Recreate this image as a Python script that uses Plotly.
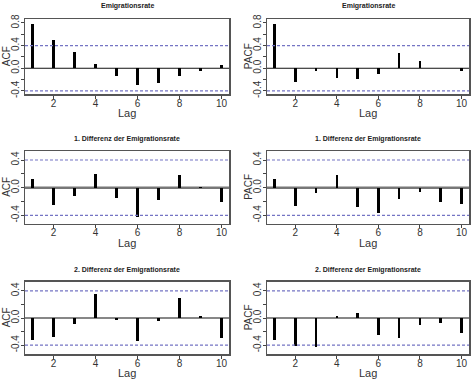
import plotly.graph_objects as go

lags = [1, 2, 3, 4, 5, 6, 7, 8, 9, 10]
ci = 0.40

acf_level = [0.78, 0.50, 0.28, 0.07, -0.135, -0.30, -0.26, -0.14, -0.05, 0.065]
pacf_level = [0.78, -0.235, -0.05, -0.18, -0.19, -0.10, 0.265, 0.12, 0.01, -0.04]
acf_diff1 = [0.12, -0.255, -0.125, 0.20, -0.155, -0.43, -0.175, 0.18, 0.005, -0.21]
pacf_diff1 = [0.125, -0.27, -0.07, 0.18, -0.275, -0.37, -0.16, -0.055, -0.20, -0.24]
acf_diff2 = [-0.317, -0.273, -0.093, 0.35, -0.034, -0.34, -0.04, 0.30, 0.025, -0.29]
pacf_diff2 = [-0.317, -0.415, -0.434, 0.03, 0.068, -0.245, -0.30, -0.11, -0.07, -0.215]

titles = ["Emigrationsrate", "1. Differenz der Emigrationsrate", "2. Differenz der Emigrationsrate"]
ylabels = ["ACF", "PACF"]
x_ticks = [2, 4, 6, 8, 10]
y_ticks = [-0.4, -0.2, 0.0, 0.2, 0.4, 0.6, 0.8]
y_ticktext = ["-0.4", "", "0.0", "", "0.4", "", "0.8"]

W, H = 474, 380
panels = [
    (acf_level, 0, 0), (pacf_level, 0, 1),
    (acf_diff1, 1, 0), (pacf_diff1, 1, 1),
    (acf_diff2, 2, 0), (pacf_diff2, 2, 1),
]
row_px = [(19.3, 94.0), (151.0, 223.7), (281.7, 354.0)]
col_px = [(25.0, 229.0), (267.0, 469.0)]
yranges = [(-0.455, 0.865), (-0.52, 0.53), (-0.53, 0.535)]
title_y = [6.5, 138.5, 269.5]
zero_style = [("#111111", 1.0), ("#777777", 2.5), ("#111111", 1.2)]

fig = go.Figure()
font = "Liberation Sans, Arial, sans-serif"
shapes = []
annotations = []
layout_axes = {}

for i, (vals, r, c) in enumerate(panels):
    n = i + 1
    xa = "x" if n == 1 else f"x{n}"
    ya = "y" if n == 1 else f"y{n}"
    xkey = "xaxis" if n == 1 else f"xaxis{n}"
    ykey = "yaxis" if n == 1 else f"yaxis{n}"
    top, bot = row_px[r]
    left, right = col_px[c]
    fig.add_trace(go.Bar(x=lags, y=vals, width=0.12, marker=dict(color="#000000", line=dict(width=0)),
                         xaxis=xa, yaxis=ya, showlegend=False, hoverinfo="skip"))
    layout_axes[xkey] = dict(domain=[left / W, right / W], range=[0.64, 10.36], anchor=ya,
                             tickvals=x_ticks, ticks="outside", ticklen=3, tickcolor="#444",
                             ticklabelstandoff=-4,
                             tickfont=dict(size=10, color="#333", family=font),
                             showgrid=False, zeroline=False, showline=True, mirror=True,
                             linecolor="#555", linewidth=1.5, automargin=False)
    layout_axes[ykey] = dict(domain=[1 - bot / H, 1 - top / H], range=list(yranges[r]), anchor=xa,
                             tickvals=y_ticks, ticktext=y_ticktext, ticks="outside", ticklen=3,
                             tickcolor="#444", tickangle=-90, ticklabelstandoff=-2,
                             tickfont=dict(size=10, color="#333", family=font),
                             showgrid=False, zeroline=False, showline=True, mirror=True,
                             linecolor="#555", linewidth=1.5, automargin=False)
    zc, zw = zero_style[r]
    shapes.append(dict(type="line", xref=f"{xa} domain", yref=ya, x0=0, x1=1, y0=0, y1=0,
                       line=dict(color=zc, width=zw), layer="below"))
    for s in (ci, -ci):
        shapes.append(dict(type="line", xref=f"{xa} domain", yref=ya, x0=0, x1=1, y0=s, y1=s,
                           line=dict(color="#7474c4", width=1.2, dash="3px,2px")))
    cx = (left + right) / 2
    annotations.append(dict(text=f"<b>{titles[r]}</b>", x=cx / W, y=1 - title_y[r] / H,
                            xref="paper", yref="paper", showarrow=False,
                            font=dict(size=7, color="#222", family=font), xanchor="center", yanchor="middle"))
    annotations.append(dict(text="Lag", x=cx / W, y=1 - (bot + 19) / H,
                            xref="paper", yref="paper", showarrow=False,
                            font=dict(size=11, color="#333", family=font), xanchor="center", yanchor="middle"))
    annotations.append(dict(text=ylabels[c], x=(left - 18.5) / W, y=1 - (top + bot) / 2 / H,
                            xref="paper", yref="paper", showarrow=False, textangle=-90,
                            font=dict(size=10, color="#333", family=font), xanchor="center", yanchor="middle"))

fig.update_layout(width=W, height=H, margin=dict(l=0, r=0, t=0, b=0),
                  paper_bgcolor="white", plot_bgcolor="white", bargap=0,
                  shapes=shapes, annotations=annotations, **layout_axes)
fig.write_html("out.html", config={"displayModeBar": False, "staticPlot": True},
               post_script="document.body.style.margin='0';document.body.style.overflow='hidden';")
